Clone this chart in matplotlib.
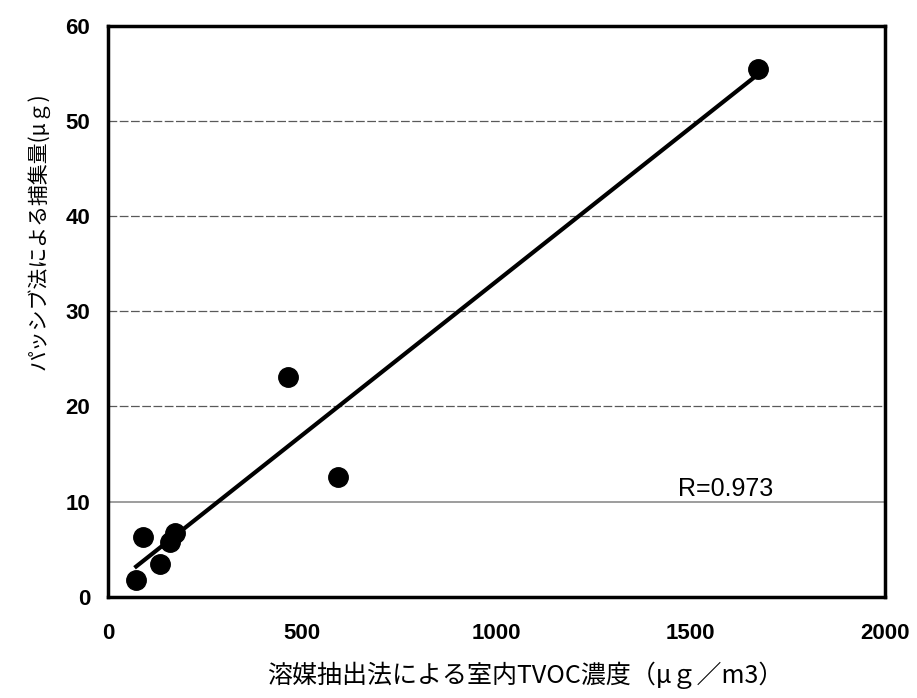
import numpy as np
import matplotlib
matplotlib.use("Agg")
import matplotlib.pyplot as plt

plt.rcParams["font.family"] = ["Noto Sans CJK JP", "DejaVu Sans"]

# solvent extraction TVOC (ug/m3) vs passive sampler uptake (ug)
tvoc = [72, 90, 134, 160, 173, 462, 591, 1672]
uptake = [1.8, 6.3, 3.4, 5.8, 6.7, 23.1, 12.6, 55.5]
r_label = "R=0.973"
x_ticks = [0, 500, 1000, 1500, 2000]
y_ticks = [0, 10, 20, 30, 40, 50, 60]

f = plt.figure(figsize=(9.17, 6.98), dpi=100)
ax = f.add_axes([0.118, 0.145, 0.847, 0.818])

ax.set_xlim(0, 2000)
ax.set_ylim(0, 60)

for yv in y_ticks[1:-1]:
    if yv == 10:
        ax.axhline(yv, color="0.55", lw=1.2, zorder=1)
    else:
        ax.axhline(yv, color="0.35", lw=0.9, ls=(0, (7, 2)), zorder=1)

x = np.array(tvoc)
y = np.array(uptake)
a, b = np.polyfit(x, y, 1)
xl = np.array([x.min(), x.max()])
ax.plot(xl, a * xl + b, color="black", lw=3, zorder=2)
ax.plot(x, y, "o", color="black", ms=14, zorder=3)

ax.text(1466, 11.3, r_label, fontsize=18, va="center", family="Liberation Sans")

ax.set_xticks(x_ticks)
ax.set_yticks(y_ticks)
ax.tick_params(length=0, labelsize=16)
ax.tick_params(axis="x", pad=19)
ax.tick_params(axis="y", pad=13)
for lab in ax.get_xticklabels() + ax.get_yticklabels():
    lab.set_fontweight("bold")
    lab.set_family("Liberation Sans")

for s in ax.spines.values():
    s.set_linewidth(2.5)

f.text(525 / 917, 1 - 675 / 698, "溶媒抽出法による室内TVOC濃度（μｇ／m3）",
       fontsize=18, ha="center", va="center")
f.text(38 / 917, 1 - 231 / 698, "パッシブ法による捕集量(μｇ)",
       fontsize=15, ha="center", va="center", rotation=90)

f.savefig("out.png", dpi=100)
